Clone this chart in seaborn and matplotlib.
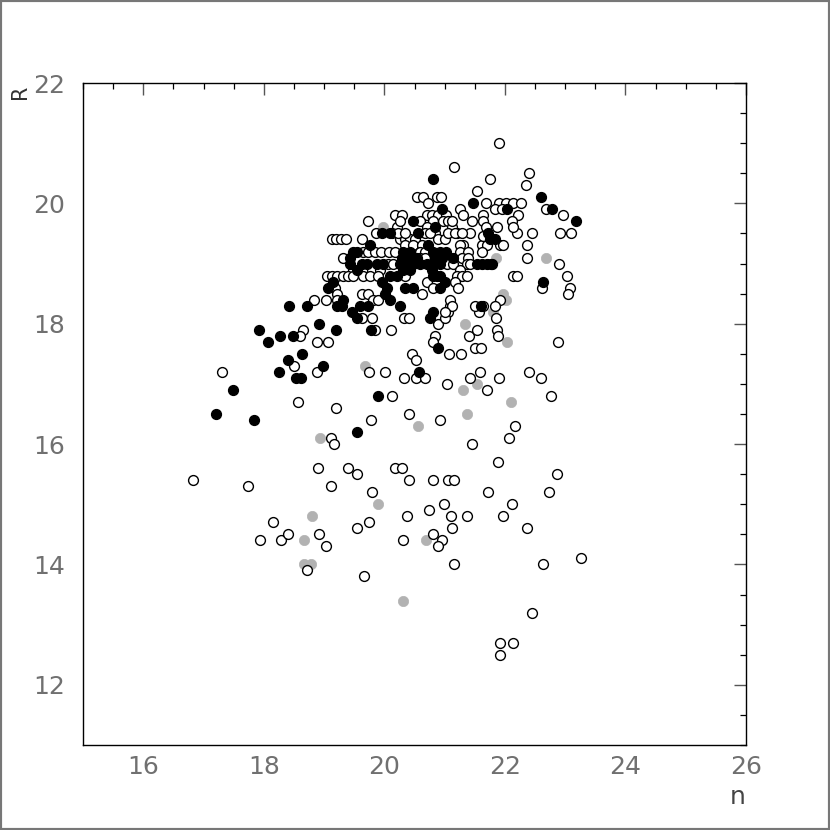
import numpy as np
import pandas as pd
import matplotlib
matplotlib.use("Agg")
import matplotlib.pyplot as plt
import seaborn as sns
from matplotlib.patches import Rectangle
from matplotlib.ticker import MultipleLocator

# ---------------------------------------------------------------
# Data (n on x, R on y)
# ---------------------------------------------------------------
# grey filled points
gray_n = [18.93, 19.89, 18.80, 18.67, 18.67, 18.78, 20.31, 20.69, 20.56, 21.37, 21.30,
          21.53, 22.10, 22.03, 21.33, 21.80, 21.97, 22.01, 21.85, 22.69, 19.98, 19.68]
gray_r = [16.1, 15.0, 14.8, 14.4, 14.0, 14.0, 13.4, 14.4, 16.3, 16.5, 16.9,
          17.0, 16.7, 17.7, 18.0, 18.2, 18.5, 18.4, 19.1, 19.1, 19.6, 17.3]

# black filled points, outside the crowded core
black_outer = [
    (17.21, 16.5), (17.49, 16.9), (17.84, 16.4), (17.92, 17.9), (18.07, 17.7),
    (18.27, 17.8), (18.48, 17.8), (18.25, 17.2), (18.40, 17.4), (18.53, 17.1),
    (18.62, 17.1), (18.63, 17.5), (18.91, 18.0), (19.20, 17.9), (18.98, 17.3),
    (18.42, 18.3), (18.71, 18.3), (19.21, 18.3), (19.15, 18.7), (19.06, 18.6),
    (19.54, 16.2), (19.89, 16.8), (20.57, 17.2), (20.89, 17.6), (20.80, 18.2),
    (20.75, 18.1), (21.60, 18.3), (21.77, 19.0), (22.63, 18.7), (20.80, 20.4),
    (21.47, 20.0), (22.60, 20.1), (22.03, 19.9), (22.78, 19.9), (23.18, 19.7),
    (21.83, 19.4), (20.95, 19.9), (20.47, 19.7), (20.56, 19.5), (20.84, 19.6),
    (20.09, 19.5), (19.76, 19.3), (19.96, 19.5), (21.72, 19.5), (21.75, 19.4),
    (20.72, 19.3), (19.78, 17.9), (19.46, 18.2), (19.54, 18.1),
]
# black filled points in the core, by R row
black_core_rows = {
    19.2: [19.48, 19.54, 20.31, 20.42, 20.80, 20.92, 21.02],
    19.1: [19.43, 20.29, 20.42, 20.54, 20.84, 20.95, 21.14],
    19.0: [19.43, 19.63, 19.71, 19.88, 19.98, 20.26, 20.31, 20.39, 20.47, 20.59,
           20.70, 20.80, 20.92, 21.53, 21.62, 21.70, 21.78],
    18.9: [19.54, 20.31, 20.42, 20.79],
    18.8: [20.09, 20.21, 20.80, 20.87, 20.92],
    18.7: [19.96, 21.00],
    18.6: [20.04, 20.34, 20.47, 20.92],
    18.5: [20.01],
    18.4: [19.31, 20.09],
    18.3: [19.30, 19.59, 19.73, 20.26],
}

# open circles, lower / sparse part
open_low = [
    (16.82, 15.4), (17.74, 15.3), (18.90, 15.6), (19.11, 15.3), (19.39, 15.6),
    (19.54, 15.5), (19.79, 15.2), (20.17, 15.6), (20.29, 15.6), (18.15, 14.7),
    (17.94, 14.4), (18.28, 14.4), (18.40, 14.5), (18.91, 14.5), (19.03, 14.3),
    (18.71, 13.9), (19.54, 14.6), (19.74, 14.7), (19.66, 13.8), (19.11, 16.1),
    (19.16, 16.0), (19.78, 16.4), (17.31, 17.2), (18.57, 16.7), (19.20, 16.6),
    (18.50, 17.3), (18.88, 17.2), (18.65, 17.9), (18.60, 17.8), (18.88, 17.7),
    (19.06, 17.7), (18.83, 18.4), (19.03, 18.4), (19.74, 17.2), (20.01, 17.2),
    (20.12, 16.8),
]
# open circles, middle and right part
open_mid = [
    (20.32, 18.1), (20.41, 18.1), (21.09, 18.3), (21.05, 18.2), (20.89, 18.0),
    (21.00, 18.1), (21.57, 18.2), (21.85, 18.1), (20.11, 17.9), (20.84, 17.8),
    (20.80, 17.7), (21.40, 17.8), (21.53, 17.9), (21.87, 17.9), (21.88, 17.8),
    (22.88, 17.7), (21.50, 17.6), (21.60, 17.6), (20.46, 17.5), (20.52, 17.4),
    (21.07, 17.5), (21.27, 17.5), (20.32, 17.1), (20.52, 17.1), (20.67, 17.1),
    (21.04, 17.0), (21.42, 17.1), (21.58, 17.2), (21.70, 16.9), (21.90, 17.1),
    (22.40, 17.2), (22.60, 17.1), (22.76, 16.8), (20.41, 16.5), (20.92, 16.4),
    (22.16, 16.3), (22.06, 16.1), (21.45, 16.0), (21.88, 15.7), (20.41, 15.4),
    (20.80, 15.4), (21.05, 15.4), (21.15, 15.4), (22.86, 15.5), (21.72, 15.2),
    (22.73, 15.2), (20.99, 15.0), (22.11, 15.0), (20.74, 14.9), (20.37, 14.8),
    (21.10, 14.8), (21.37, 14.8), (21.97, 14.8), (22.36, 14.6), (21.12, 14.6),
    (20.31, 14.4), (20.80, 14.5), (20.95, 14.4), (20.89, 14.3), (21.15, 14.0),
    (22.63, 14.0), (23.26, 14.1), (22.45, 13.2), (21.92, 12.7), (22.13, 12.7),
    (21.92, 12.5),
]
# open circles, upper part
open_top = [
    (22.13, 18.8), (22.20, 18.8), (22.36, 19.1), (22.89, 19.0), (23.03, 18.8),
    (22.61, 18.6), (23.08, 18.6), (23.04, 18.5), (21.92, 18.4), (21.90, 21.0),
    (21.15, 20.6), (22.40, 20.5), (21.75, 20.4), (22.35, 20.3), (21.53, 20.2),
    (20.87, 20.1), (20.94, 20.1), (20.54, 20.1), (20.64, 20.1), (21.68, 20.0),
    (21.90, 20.0), (22.01, 20.0), (22.13, 20.0), (22.26, 20.0), (22.68, 19.9),
    (22.96, 19.8), (22.91, 19.5), (23.09, 19.5), (22.45, 19.5), (22.20, 19.5),
    (22.36, 19.3), (21.62, 19.3), (21.70, 19.3), (20.72, 20.0), (20.17, 19.8),
    (20.29, 19.8), (20.70, 19.8), (20.79, 19.8), (20.89, 19.8), (21.02, 19.8),
    (19.73, 19.7), (19.86, 19.5), (20.21, 19.6), (20.80, 19.7), (20.97, 19.7),
    (21.05, 19.7), (21.12, 19.6), (20.84, 19.5), (20.89, 19.4), (21.00, 19.4),
    (21.20, 19.5), (21.42, 19.5), (21.63, 19.45), (21.25, 19.9), (21.30, 19.8),
    (21.45, 19.7), (21.63, 19.8), (21.83, 19.9), (21.95, 19.9), (22.21, 19.8),
    (22.11, 19.7), (22.13, 19.6), (21.63, 19.7), (21.68, 19.6), (21.87, 19.6),
    (21.30, 19.3), (21.92, 19.3), (20.26, 19.7), (20.59, 19.7), (20.70, 19.6),
    (20.26, 19.4), (20.34, 19.4), (20.42, 19.4), (20.51, 19.4), (21.12, 19.7),
]
# open circles in the core, by R row
open_core_rows = {
    19.5: [20.12, 20.22, 20.34, 20.67, 20.75, 21.05, 21.17, 21.29],
    19.4: [19.13, 19.20, 19.28, 19.36, 19.63],
    19.3: [20.34, 20.47, 20.62, 21.25, 21.97],
    19.2: [19.64, 19.73, 19.84, 19.94, 20.07, 20.17, 20.59, 20.67, 21.62, 21.25, 21.38],
    19.1: [19.31, 20.59, 20.67, 21.09, 21.29, 21.38],
    19.0: [20.06, 20.14, 21.04, 21.14, 21.37, 21.42],
    18.9: [19.48, 19.68, 19.79, 19.93, 21.25],
    18.8: [19.05, 19.13, 19.21, 19.31, 19.39, 19.48, 19.64, 19.76, 19.89, 20.34,
           21.20, 21.29, 21.37],
    18.7: [20.70, 21.17],
    18.6: [20.80, 21.22, 19.18],
    18.5: [19.21, 19.63, 19.73, 20.62],
    18.4: [19.21, 19.81, 19.89, 21.09],
    18.3: [21.12, 21.50, 21.63, 21.83],
    18.2: [21.00],
    18.1: [19.63, 19.79],
    17.9: [19.84],
}


def rows_to_pairs(rows):
    return [(n, r) for r, ns in rows.items() for n in ns]


open_pts = open_low + open_mid + open_top + rows_to_pairs(open_core_rows)
black_pts = black_outer + rows_to_pairs(black_core_rows)

df_open = pd.DataFrame(open_pts, columns=["n", "R"])
df_black = pd.DataFrame(black_pts, columns=["n", "R"])
df_gray = pd.DataFrame({"n": gray_n, "R": gray_r})

# ---------------------------------------------------------------
# Plot
# ---------------------------------------------------------------
sns.set_style("white")
plt.rcParams["font.family"] = ["DejaVu Sans"]

fig = plt.figure(figsize=(8.3, 8.3), dpi=100)
ax = fig.add_axes([83 / 830, 85 / 830, 663 / 830, 662 / 830])

sns.scatterplot(data=df_gray, x="n", y="R", ax=ax, s=55, color="#b2b2b2",
                edgecolor="#b2b2b2", linewidth=0.5, zorder=2, legend=False)
sns.scatterplot(data=df_open, x="n", y="R", ax=ax, s=50, color="white",
                edgecolor="black", linewidth=1.0, zorder=3, legend=False)
sns.scatterplot(data=df_black, x="n", y="R", ax=ax, s=50, color="black",
                edgecolor="black", linewidth=1.0, zorder=4, legend=False)

ax.set_xlim(15, 26)
ax.set_ylim(11, 22)
ax.xaxis.set_major_locator(MultipleLocator(2))
ax.yaxis.set_major_locator(MultipleLocator(2))
ax.xaxis.set_minor_locator(MultipleLocator(0.5))
ax.yaxis.set_minor_locator(MultipleLocator(0.5))

ax.tick_params(which="both", direction="in", top=True, right=True,
               labeltop=False, labelright=False)
ax.tick_params(which="major", length=8.6, width=1.0, color="#555555",
               labelsize=18, labelcolor="#707070")
ax.tick_params(which="minor", length=4.3, width=0.9, color="black")
ax.tick_params(axis="x", which="major", pad=7)
ax.tick_params(axis="y", which="major", pad=13)

for sp in ax.spines.values():
    sp.set_visible(True)
    sp.set_color("black")
    sp.set_linewidth(1.0)

ax.set_xlabel("n", fontsize=18, color="#444444")
ax.xaxis.set_label_coords(0.988, -0.06)
ax.set_ylabel("R", fontsize=15, color="#333333", rotation=90)
ax.yaxis.set_label_coords(-0.08, 0.986)

# outer frame around the whole picture
fig.add_artist(Rectangle((0, 0), 1, 1, transform=fig.transFigure, fill=False,
                         linewidth=3, edgecolor="#777777"))

fig.savefig("out.png", dpi=100)
plt.close(fig)
